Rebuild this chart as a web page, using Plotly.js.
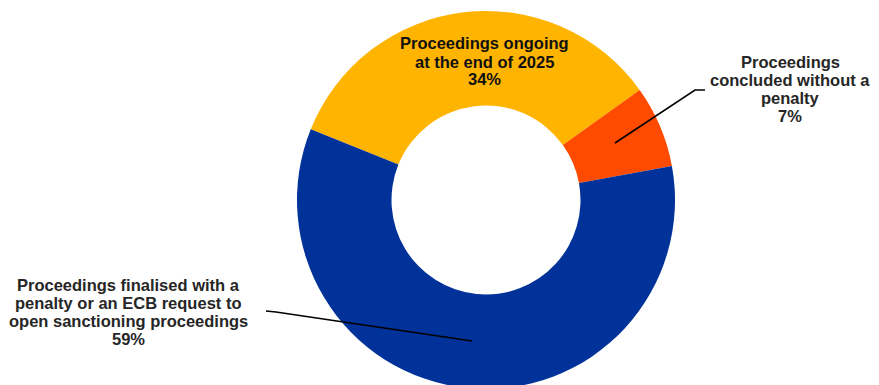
<!DOCTYPE html>
<html>
<head>
<meta charset="utf-8">
<script src="https://cdn.plot.ly/plotly-3.0.1.min.js"></script>
<style>
html,body{margin:0;padding:0;overflow:hidden;background:#fff;}
#chart{width:879px;height:389px;}
</style>
</head>
<body>
<div id="chart"></div>
<script>
// Data
const categories = [
  "Proceedings ongoing at the end of 2025",
  "Proceedings concluded without a penalty",
  "Proceedings finalised with a penalty or an ECB request to open sanctioning proceedings"
];
const values = [34, 7, 59];
const labelLines = [
  ["Proceedings ongoing", "at the end of 2025"],
  ["Proceedings", "concluded without a", "penalty"],
  ["Proceedings finalised with a", "penalty or an ECB request to", "open sanctioning proceedings"]
];
const colors = ["#FFB400", "#FF4B00", "#003299"];

// Layout geometry (pixels)
const W = 879, H = 389, T = 11, B = 0;
const px = x => x / W;
const py = y => (H - B - y) / (H - T - B);

// Label placement: [centre x, first line centre y, text colour]
const labelPos = [
  [485, 43.5, "#111111"],
  [790, 62, "#262626"],
  [128, 284.5, "#262626"]
];
const lineStep = 18;

const annotations = [];
categories.forEach((c, i) => {
  const lines = labelLines[i].concat([values[i] + "%"]);
  lines.forEach((t, j) => {
    annotations.push({
      text: "<b>" + t + "</b>",
      xref: "paper", yref: "paper",
      x: px(labelPos[i][0]), y: py(labelPos[i][1] + j * lineStep),
      xanchor: "center", yanchor: "middle",
      showarrow: false,
      font: {family: "Liberation Sans, Arial, sans-serif", size: 16.5, color: labelPos[i][2]}
    });
  });
});

// Leader lines (pixel paths)
const leaders = [
  [[615, 143], [695, 90], [705, 90]],
  [[472, 341], [276, 312], [266, 311]]
];
const shapes = leaders.map(pts => ({
  type: "path",
  xref: "paper", yref: "paper",
  path: pts.map((p, k) => (k ? "L" : "M") + px(p[0]) + "," + py(p[1])).join(" "),
  line: {color: "#000000", width: 1.6}
}));

const cx = 486, r = 189;
const trace = {
  type: "pie",
  labels: categories,
  values: values,
  sort: false,
  direction: "clockwise",
  rotation: -68,
  hole: 0.5,
  marker: {colors: colors, line: {width: 0}},
  textinfo: "none",
  hoverinfo: "label+percent",
  showlegend: false,
  domain: {x: [px(cx - r), px(cx + r)], y: [0, 1]}
};

Plotly.newPlot("chart", [trace], {
  width: W, height: H,
  margin: {l: 0, r: 0, t: T, b: B, pad: 0},
  paper_bgcolor: "#ffffff",
  plot_bgcolor: "#ffffff",
  showlegend: false,
  annotations: annotations,
  shapes: shapes
}, {displayModeBar: false, staticPlot: true});
</script>
</body>
</html>
